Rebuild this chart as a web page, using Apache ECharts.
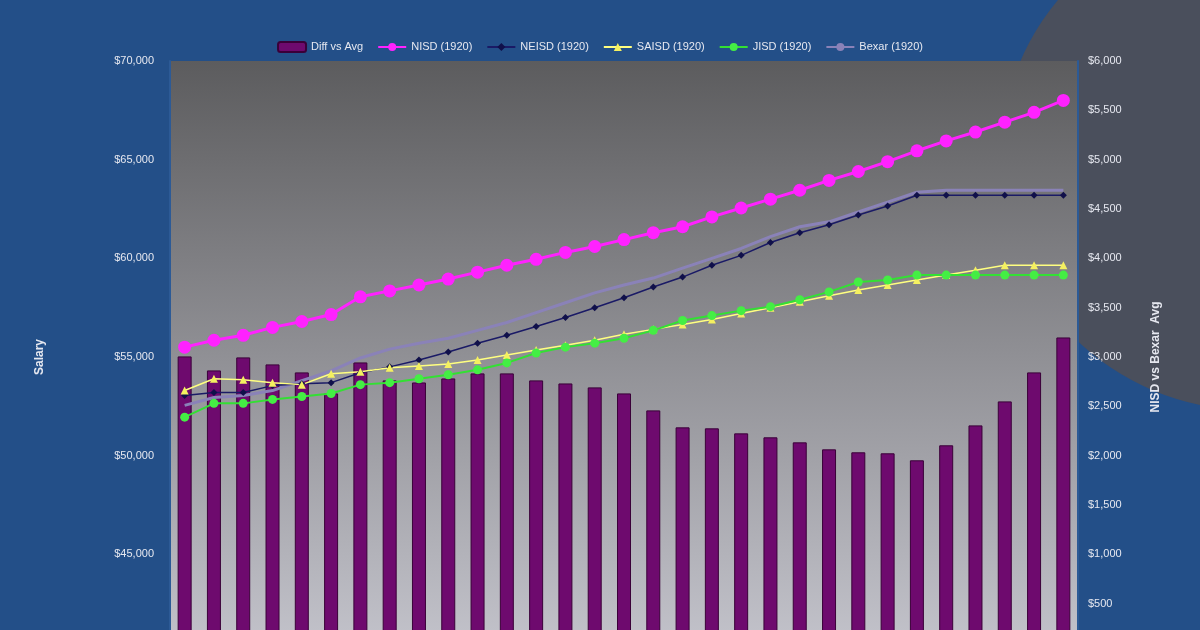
<!DOCTYPE html>
<html>
<head>
  <meta charset="utf-8">
  <title>Salary chart</title>
  <script src="https://cdn.jsdelivr.net/npm/echarts@6/dist/echarts.min.js"></script>
  <style>
    html, body { margin: 0; padding: 0; overflow: hidden; background: #234f88; }
    #chart { width: 1200px; height: 700px; }
  </style>
</head>
<body>
<div id="chart"></div>
<script>
// categories: steps 1..31 (no visible labels on the original)
var steps = [];
for (var i = 1; i <= 31; i++) steps.push(String(i));

var diffVsAvg = [3006, 2864, 2996, 2925, 2844, 2631, 2945, 2763, 2742, 2783, 2834, 2834, 2763, 2732, 2692, 2631,
  2459, 2287, 2277, 2226, 2186, 2135, 2064, 2034, 2024, 1953, 2105, 2307, 2550, 2844, 3198];
var nisd = [55500, 55850, 56100, 56500, 56800, 57150, 58050, 58350, 58650, 58950, 59300, 59650, 59950, 60300, 60600, 60950,
  61300, 61600, 62100, 62550, 63000, 63450, 63950, 64400, 64900, 65450, 65950, 66400, 66900, 67400, 68000];
var neisd = [53050, 53200, 53200, 53550, 53650, 53700, 54200, 54500, 54850, 55250, 55700, 56100, 56550, 57000, 57500, 58000,
  58550, 59050, 59650, 60150, 60800, 61300, 61700, 62200, 62650, 63200, 63200, 63200, 63200, 63200, 63200];
var saisd = [53300, 53900, 53850, 53700, 53600, 54150, 54250, 54450, 54550, 54650, 54850, 55100, 55350, 55600, 55850, 56150,
  56400, 56650, 56900, 57200, 57500, 57800, 58100, 58400, 58650, 58900, 59150, 59400, 59650, 59650, 59650];
var jisd = [51950, 52650, 52650, 52850, 53000, 53150, 53600, 53700, 53900, 54100, 54350, 54700, 55200, 55500, 55700, 55950,
  56350, 56850, 57100, 57350, 57550, 57900, 58300, 58800, 58900, 59150, 59150, 59150, 59150, 59150, 59150];
var bexar = [52550, 52950, 53050, 53300, 53800, 54300, 54950, 55400, 55700, 55950, 56350, 56750, 57250, 57750, 58250, 58650,
  59000, 59500, 60000, 60500, 61100, 61600, 61850, 62350, 62850, 63350, 63450, 63450, 63450, 63450, 63450];

var chart = echarts.init(document.getElementById('chart'));
var txt = '#e6e8f0';

function money(v) { return '$' + v.toLocaleString('en-US'); }

chart.setOption({
  backgroundColor: '#234f88',
  animation: false,
  graphic: [{
    type: 'circle', z: -10,
    shape: { cx: 1250, cy: 160, r: 250 },
    style: { fill: '#4a4f5c' }
  }],
  textStyle: { fontFamily: 'Liberation Sans, Arial, sans-serif' },
  legend: {
    top: 36, left: 'center', itemGap: 14, itemWidth: 28, itemHeight: 10,
    textStyle: { color: txt, fontSize: 11 },
    data: ['Diff vs Avg', 'NISD (1920)', 'NEISD (1920)', 'SAISD (1920)', 'JISD (1920)', 'Bexar (1920)']
  },
  grid: {
    left: 170, right: 122, top: 61, bottom: 47, show: true, borderWidth: 0,
    backgroundColor: new echarts.graphic.LinearGradient(0, 0, 0, 1, [
      { offset: 0, color: '#5c5c5e' },
      { offset: 1, color: '#c4c4cc' }
    ])
  },
  xAxis: {
    type: 'category', data: steps,
    axisLine: { show: false }, axisTick: { show: false }, axisLabel: { show: false }
  },
  yAxis: [{
    type: 'value', min: 40000, max: 70000, interval: 5000,
    name: 'Salary', nameLocation: 'middle', nameGap: 124, nameRotate: 90,
    nameTextStyle: { color: txt, fontSize: 12, fontWeight: 'bold' },
    axisLine: { show: true, lineStyle: { color: '#2c5a96', width: 2 } },
    axisLabel: { color: txt, fontSize: 11, formatter: money, margin: 16 },
    splitLine: { show: false }
  }, {
    type: 'value', min: 0, max: 6000, interval: 500,
    name: 'NISD vs Bexar  Avg', nameLocation: 'middle', nameGap: 72, nameRotate: 90,
    nameTextStyle: { color: txt, fontSize: 12, fontWeight: 'bold' },
    axisLine: { show: true, lineStyle: { color: '#2c5a96', width: 2 } },
    axisLabel: { color: txt, fontSize: 11, formatter: money, margin: 10 },
    splitLine: { show: false }
  }],
  series: [{
    name: 'Diff vs Avg', type: 'bar', yAxisIndex: 1, data: diffVsAvg, barWidth: 14,
    itemStyle: { color: '#6e0a6e', borderColor: '#3a0038', borderWidth: 1 }
  }, {
    name: 'NISD (1920)', type: 'line', data: nisd, symbol: 'circle', symbolSize: 13,
    lineStyle: { color: '#ff22ff', width: 3 }, itemStyle: { color: '#ff22ff' }
  }, {
    name: 'Bexar (1920)', type: 'line', data: bexar, symbol: 'none',
    lineStyle: { color: '#8a82b8', width: 3 }, itemStyle: { color: '#8a82b8' }
  }, {
    name: 'NEISD (1920)', type: 'line', data: neisd, symbol: 'diamond', symbolSize: 7,
    lineStyle: { color: '#1a1a66', width: 1.5 }, itemStyle: { color: '#10104a' }
  }, {
    name: 'SAISD (1920)', type: 'line', data: saisd, symbol: 'triangle', symbolSize: 8,
    lineStyle: { color: '#ffff80', width: 1.5 }, itemStyle: { color: '#f4f060' }
  }, {
    name: 'JISD (1920)', type: 'line', data: jisd, symbol: 'circle', symbolSize: 9,
    lineStyle: { color: '#33e033', width: 2 }, itemStyle: { color: '#44ee44' }
  }]
});
</script>
</body>
</html>
